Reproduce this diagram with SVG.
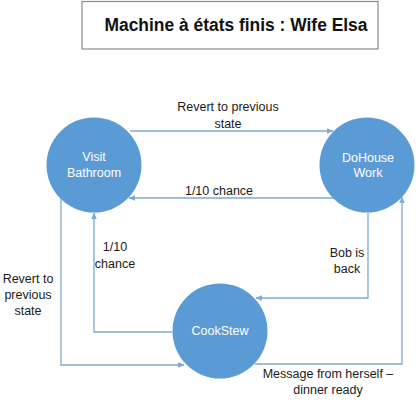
<svg xmlns="http://www.w3.org/2000/svg" width="418" height="403" viewBox="0 0 418 403">
<style>
.node{fill:#5b9bd5;}
.nt{fill:#ffffff;font-family:"Liberation Sans",Arial,sans-serif;font-size:12.5px;text-anchor:middle;}
.lbl{fill:#1a1a1a;font-family:"Liberation Sans",Arial,sans-serif;font-size:12.5px;text-anchor:middle;}
.edge{fill:none;stroke:#7fa9d3;stroke-width:1.3;marker-end:url(#ah);}
</style>
<defs>
<marker id="ah" viewBox="0 0 10 10" refX="9" refY="5" markerWidth="7" markerHeight="7" orient="auto" markerUnits="userSpaceOnUse">
<path d="M0,1 L10,5 L0,9 z" fill="#7fa9d3"/>
</marker>
</defs>
<rect x="0" y="0" width="418" height="403" fill="#ffffff"/>
<g id="title">
<rect x="82" y="1.5" width="296" height="47.5" fill="#ffffff" stroke="#8c8c8c" stroke-width="1.2"/>
<text x="236" y="31" font-family="Liberation Sans,Arial,sans-serif" font-size="17.5" font-weight="bold" fill="#111111" text-anchor="middle" textLength="263" lengthAdjust="spacingAndGlyphs">Machine à états finis : Wife Elsa</text>
</g>
<g id="connectors">
<path class="edge" d="M130,131 L333,131"/>
<path class="edge" d="M336,198 L129,198"/>
<path class="edge" d="M172,332 L94,332 L94,213"/>
<path class="edge" d="M61,198 L61,365 L184,365"/>
<path class="edge" d="M368,213 L368,298 L256,298"/>
<path class="edge" d="M255,364 L402,364 L402,197"/>
<text class="lbl" x="228" y="111">Revert to previous</text>
<text class="lbl" x="228" y="128">state</text>
<text class="lbl" x="219" y="195">1/10 chance</text>
<text class="lbl" x="115" y="251">1/10</text>
<text class="lbl" x="115" y="268">chance</text>
<text class="lbl" x="28" y="283">Revert to</text>
<text class="lbl" x="28" y="299">previous</text>
<text class="lbl" x="28" y="315">state</text>
<text class="lbl" x="347" y="257">Bob is</text>
<text class="lbl" x="347" y="273">back</text>
<text class="lbl" x="328" y="378">Message from herself –</text>
<text class="lbl" x="328" y="394">dinner ready</text>
</g>
<g id="visit-bathroom">
<circle class="node" cx="94" cy="165" r="47.5"/>
<text class="nt" x="94" y="161">Visit</text>
<text class="nt" x="94" y="177">Bathroom</text>
</g>
<g id="dohouse-work">
<circle class="node" cx="367" cy="165" r="47.5"/>
<text class="nt" x="368" y="162">DoHouse</text>
<text class="nt" x="368" y="177">Work</text>
</g>
<g id="cookstew">
<circle class="node" cx="220" cy="331" r="47.5"/>
<text class="nt" x="220" y="335">CookStew</text>
</g>
</svg>
